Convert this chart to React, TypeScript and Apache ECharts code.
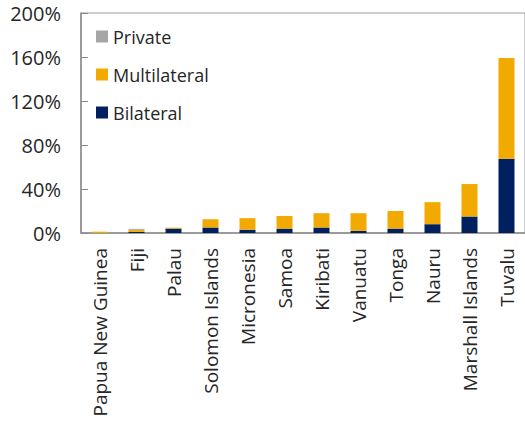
import React, { useEffect, useRef } from "react";
import * as echarts from "echarts";

const categories = [
  "Papua New Guinea",
  "Fiji",
  "Palau",
  "Solomon Islands",
  "Micronesia",
  "Samoa",
  "Kiribati",
  "Vanuatu",
  "Tonga",
  "Nauru",
  "Marshall Islands",
  "Tuvalu",
];
const bilateral = [0, 1, 4, 5, 3, 4, 5, 2, 4, 8, 15, 67.5];
const multilateral = [1.2, 2, 0.8, 7.5, 10.5, 11.5, 13, 16, 16, 20, 29.5, 91.5];
const privateDebt = [0, 0.8, 0, 0, 0, 0, 0, 0, 0, 0, 0, 0];
const yTicks = { min: 0, max: 200, interval: 40 };

const FONT = "'Open Sans', 'Noto Sans', sans-serif";

export default function App() {
  const ref = useRef<HTMLDivElement>(null);
  useEffect(() => {
    if (!ref.current) return;
    const chart = echarts.init(ref.current, null, { renderer: "svg" });
    chart.setOption({
      animation: false,
      textStyle: { fontFamily: FONT },
      grid: {
        left: 81,
        right: -4,
        top: 13,
        bottom: 193,
        show: true,
        borderColor: "#9a9a9a",
        borderWidth: 1,
        backgroundColor: "transparent",
      },
      legend: {
        orient: "vertical",
        left: 96,
        top: 24,
        padding: 0,
        itemWidth: 12,
        itemHeight: 12,
        itemGap: 13,
        icon: "rect",
        data: ["Private", "Multilateral", "Bilateral"],
        textStyle: { fontFamily: FONT, fontSize: 18, color: "#262626", lineHeight: 25 },
      },
      xAxis: {
        type: "category",
        data: categories,
        axisLine: { lineStyle: { color: "#8a8a8a", width: 1.5 } },
        axisTick: { show: false },
        axisLabel: {
          rotate: 90,
          interval: 0,
          margin: 15,
          fontFamily: FONT,
          fontSize: 19,
          color: "#262626",
        },
      },
      yAxis: {
        type: "value",
        min: yTicks.min,
        max: yTicks.max,
        interval: yTicks.interval,
        axisLine: { show: true, lineStyle: { color: "#8a8a8a", width: 1.5 } },
        axisTick: { show: true, inside: true, length: 7, lineStyle: { color: "#8a8a8a" } },
        splitLine: { show: false },
        axisLabel: {
          formatter: "{value}%",
          margin: 20,
          fontFamily: FONT,
          fontSize: 20,
          color: "#262626",
        },
      },
      series: [
        {
          name: "Bilateral",
          type: "bar",
          stack: "total",
          data: bilateral,
          barWidth: 16,
          itemStyle: { color: "#002060" },
        },
        {
          name: "Multilateral",
          type: "bar",
          stack: "total",
          data: multilateral,
          barWidth: 16,
          itemStyle: { color: "#f2a900" },
        },
        {
          name: "Private",
          type: "bar",
          stack: "total",
          data: privateDebt,
          barWidth: 16,
          itemStyle: { color: "#a6a6a6" },
        },
      ],
    });
    return () => chart.dispose();
  }, []);
  return (
    <div
      ref={ref}
      style={{ position: "fixed", left: 0, top: 0, width: 525, height: 426, background: "#fff" }}
    />
  );
}
